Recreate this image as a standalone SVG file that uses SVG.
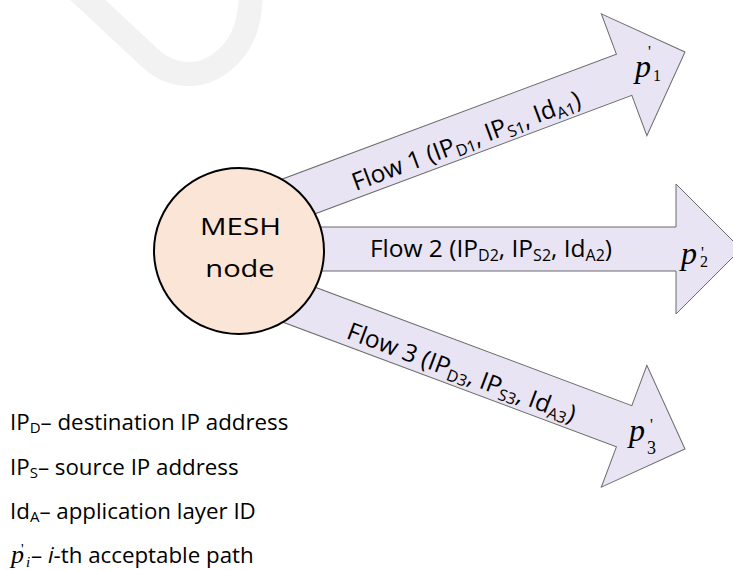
<svg xmlns="http://www.w3.org/2000/svg" width="733" height="570" viewBox="0 0 733 570">
<style>
.arrow{fill:#E8E4F3;stroke:#6b6b6b;stroke-width:1}
.lbl{font-family:"Open Sans","Liberation Sans",sans-serif;font-size:24.5px;fill:#000}
.sub{font-size:16px}
.math{font-family:"Liberation Serif","Times New Roman",serif;font-style:italic;fill:#000}
.up{font-style:normal}
.leg{font-family:"Open Sans","Liberation Sans",sans-serif;font-size:22.3px;fill:#000}
.node{font-family:"Open Sans","Liberation Sans",sans-serif;font-size:24.2px;fill:#000}
</style>
<defs>
<polygon id="arrowShape" points="0,0 -65,-65 -65,-22 -500,-22 -500,22 -65,22 -65,65"/>
</defs>
<rect width="733" height="570" fill="#ffffff"/>
<path d="M 75,-12 L 150,58 C 170,77 200,80 222,62 C 245,44 251,20 251,-12" fill="none" stroke="#f2f2f2" stroke-width="24"/>
<g id="connectors">
<g id="flow1">
<use href="#arrowShape" class="arrow" transform="translate(685,52) rotate(-20.5)"/>
<text class="lbl" transform="translate(685,52) rotate(-20.5)" x="-236" y="15" text-anchor="middle">Flow 1 (IP<tspan class="sub" dy="4">D1</tspan><tspan dy="-4">, IP</tspan><tspan class="sub" dy="4">S1</tspan><tspan dy="-4">, Id</tspan><tspan class="sub" dy="4">A1</tspan><tspan dy="-4">)</tspan></text>
<text class="math" x="635" y="77" font-size="32">p<tspan class="up" x="648" y="57" font-size="16">'</tspan><tspan class="up" x="653" y="81" font-size="16">1</tspan></text>
</g>
<g id="flow2">
<use href="#arrowShape" class="arrow" transform="translate(741,249)"/>
<text class="lbl" transform="translate(741,249)" x="-250" y="8.3" text-anchor="middle">Flow 2 (IP<tspan class="sub" dy="4">D2</tspan><tspan dy="-4">, IP</tspan><tspan class="sub" dy="4">S2</tspan><tspan dy="-4">, Id</tspan><tspan class="sub" dy="4">A2</tspan><tspan dy="-4">)</tspan></text>
<text class="math" x="681" y="264" font-size="32">p<tspan class="up" x="701" y="258" font-size="16">'</tspan><tspan class="up" x="700" y="267" font-size="16">2</tspan></text>
</g>
<g id="flow3">
<use href="#arrowShape" class="arrow" transform="translate(685,449) rotate(20.5)"/>
<text class="lbl" transform="translate(685,449) rotate(20.5)" x="-236" y="15" text-anchor="middle">Flow 3 (IP<tspan class="sub" dy="4">D3</tspan><tspan dy="-4">, IP</tspan><tspan class="sub" dy="4">S3</tspan><tspan dy="-4">, Id</tspan><tspan class="sub" dy="4">A3</tspan><tspan dy="-4">)</tspan></text>
<text class="math" x="629" y="441" font-size="32">p<tspan class="up" x="650" y="430" font-size="16">'</tspan><tspan class="up" x="647" y="454" font-size="18">3</tspan></text>
</g>
</g>
<g id="mesh-node">
<ellipse cx="239" cy="251" rx="85" ry="83" fill="#FBE5D6" stroke="#000" stroke-width="2"/>
<text class="node" transform="translate(240.5,235) scale(1.22,1)" text-anchor="middle">MESH</text>
<text class="node" transform="translate(240,277) scale(1.2,1)" text-anchor="middle">node</text>
</g>
<g id="legend">
<text class="leg" x="10" y="430">IP<tspan font-size="15" dy="3">D</tspan><tspan dy="-3">– destination IP address</tspan></text>
<text class="leg" x="10" y="475">IP<tspan font-size="15" dy="3">S</tspan><tspan dy="-3">– source IP address</tspan></text>
<text class="leg" x="10" y="519">Id<tspan font-size="15" dy="3">A</tspan><tspan dy="-3">– application layer ID</tspan></text>
<text class="math" x="11" y="563" font-size="26">p<tspan class="up" x="21" y="554" font-size="15">'</tspan><tspan x="26" y="567" font-size="15">i</tspan></text>
<text class="leg" x="31" y="563">– <tspan font-style="italic">i</tspan>-th acceptable path</text>
</g>
</svg>
